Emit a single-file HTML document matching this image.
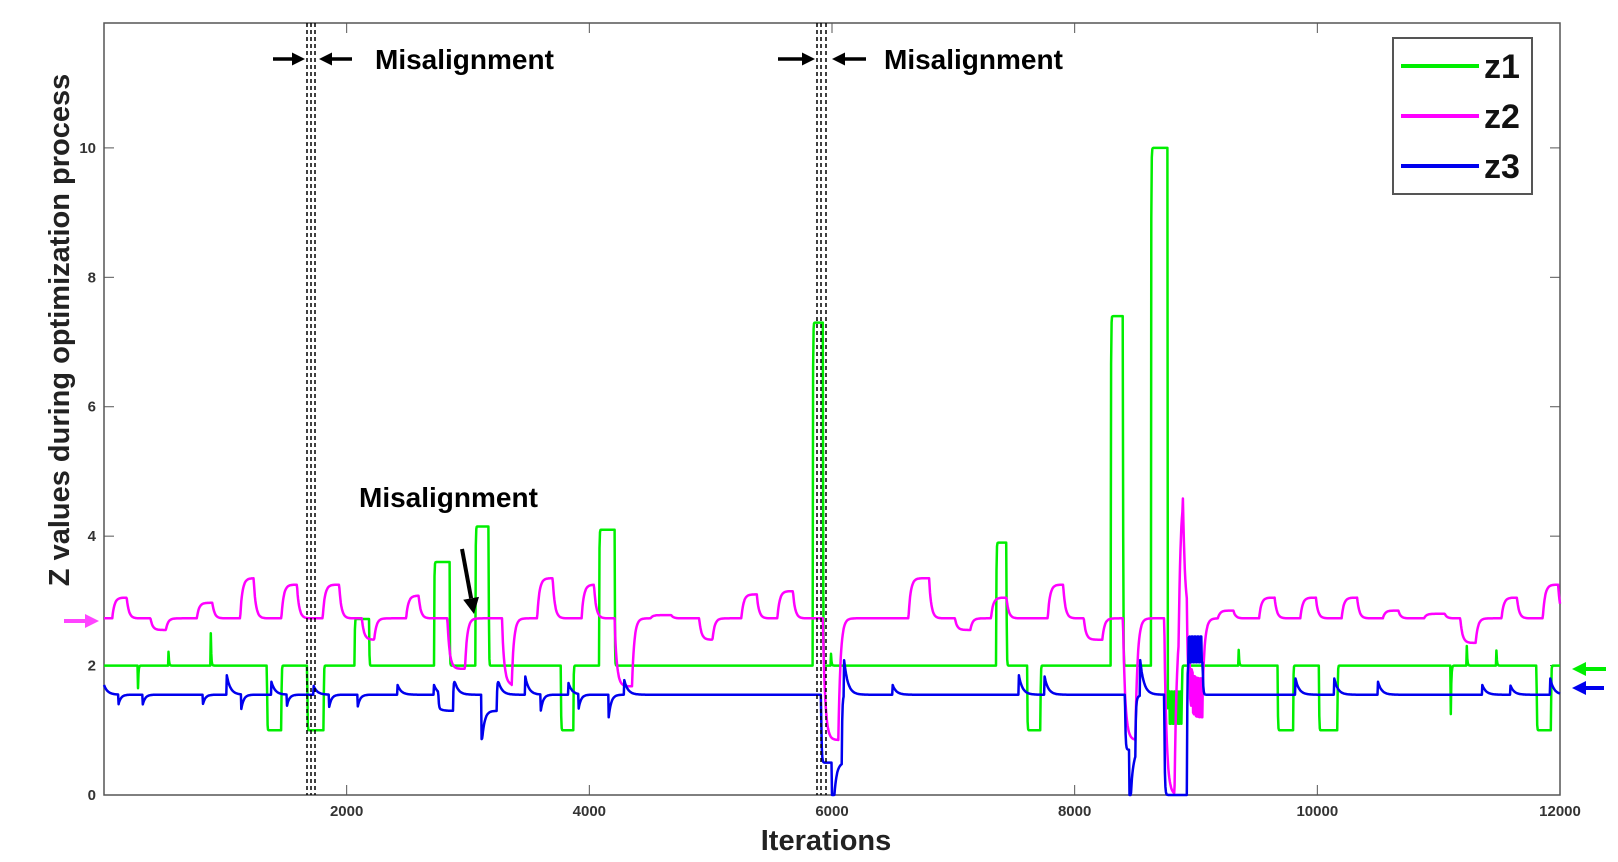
<!DOCTYPE html>
<html><head><meta charset="utf-8"><style>
html,body{margin:0;padding:0;background:#fff;}
svg{display:block;font-family:"Liberation Sans",sans-serif;}
</style></head><body>
<svg id="chart" width="1618" height="862" viewBox="0 0 1618 862" xmlns="http://www.w3.org/2000/svg"></svg>
<script>
const xTicks=[2000,4000,6000,8000,10000,12000];
const yTicks=[0,2,4,6,8,10];
const seriesNames=["z1","z2","z3"];
const z1Base=2.0, z2Base=2.73, z3Base=1.55;
// events: [startIter, endIter, level]
const z1Events=[[1343,1462,1.0],[1675,1810,1.0],[2065,2185,2.72],[2720,2848,3.6],[3060,3170,4.15],[3765,3868,1.0],[4080,4208,4.1],[5840,5925,7.3],[7353,7438,3.9],[7608,7718,1.0],[8296,8398,7.4],[8628,8764,10],[8764,8883,1.3],[9673,9800,1.0],[10013,10166,1.0],[11807,11926,1.0]];
const z1Spikes=[[280,1.65],[530,2.35],[880,2.5],[5990,2.3],[9350,2.4],[11100,1.25],[11230,2.5],[11475,2.3]];
const z2Events=[[68,187,3.05],[383,510,2.55],[765,893,2.97],[1122,1233,3.35],[1462,1590,3.25],[1802,1938,3.25],[2125,2227,2.4],[2490,2593,3.08],[2830,2975,1.95],[3280,3360,1.7],[3570,3698,3.35],[3936,4038,3.25],[4208,4352,1.68],[4505,4675,2.78],[4905,5015,2.4],[5253,5380,3.1],[5550,5678,3.15],[5925,6052,0.85],[6630,6800,3.35],[7013,7140,2.55],[7310,7438,3.05],[7778,7905,3.25],[8075,8228,2.4],[8398,8500,0.85],[8738,8823,0],[8857,8891,4.75],[8925,9053,1.5],[9180,9308,2.85],[9520,9648,3.05],[9860,9988,3.05],[10200,10328,3.05],[10540,10668,2.85],[10880,11050,2.8],[11178,11305,2.35],[11518,11645,3.05],[11858,11985,3.25]];
const z3Events=[[2755,2880,1.3],[3110,3240,1.3],[5910,6080,0.5],[8415,8500,0.7],[8738,8925,0],[8925,9053,2.3]];
const z3Spikes=[[0,1.7],[1012,1.85],[1380,1.75],[1725,1.7],[2420,1.7],[2720,1.7],[2880,1.85],[3240,1.85],[3470,1.85],[3825,1.75],[4285,1.8],[6100,2.1],[6500,1.7],[7540,1.85],[7750,1.85],[8540,2.1],[9820,1.8],[10140,1.8],[10500,1.75],[11360,1.7],[11590,1.7],[11920,1.8]];
const z3Dips=[[120,1.4],[320,1.4],[815,1.4],[1130,1.3],[1505,1.35],[1855,1.35],[2090,1.35],[3110,0.9],[3600,1.3],[3910,1.3],[4160,1.2],[6000,0.2],[8450,0.2]];

const L=104,R=1560,T=23,B=795,XMIN=0,XMAX=12000,YMIN=0,YMAX=11.93;
const sx=v=>L+(v-XMIN)/(XMAX-XMIN)*(R-L);
const sy=v=>B-(v-YMIN)/(YMAX-YMIN)*(B-T);
const NS="http://www.w3.org/2000/svg";
const svg=document.getElementById('chart');
function mk(tag,attrs,parent){const e=document.createElementNS(NS,tag);for(const k in attrs)e.setAttribute(k,attrs[k]);(parent||svg).appendChild(e);return e;}

function boxVal(t,base,events,tau){
  let v=base;
  for(const [s,e,lv] of events){
    if(t>=s&&t<e){v+= (lv-v)*(1-Math.exp(-(t-s)/tau));}
    else if(t>=e&&t<e+tau*8){v+=(lv-base)*Math.exp(-(t-e)/tau);}
  }
  return v;
}
function spikeVal(t,base,spikes,tau){
  let d=0;
  for(const [p,lv] of spikes){ if(t>=p&&t<p+tau*8) d+=(lv-base)*Math.exp(-(t-p)/tau); }
  return d;
}
function build(fn){const pts=[];for(let t=XMIN;t<=XMAX;t+=4){pts.push(sx(t).toFixed(1)+','+sy(Math.max(0,fn(t))).toFixed(1));}return pts.join(' ');}

const z1fn=t=>boxVal(t,z1Base,z1Events,2)+spikeVal(t,z1Base,z1Spikes,4)+((t>8764&&t<8883)?((Math.floor(t/12)%2)?0.3:-0.2):0);
const z2fn=t=>boxVal(t,z2Base,z2Events,18)+((t>8925&&t<9053)?((Math.floor(t/12)%2)?0.3:-0.3):0);
const z3fn=t=>boxVal(t,z3Base,z3Events,4)+spikeVal(t,z3Base,z3Spikes,30)+spikeVal(t,z3Base,z3Dips,20)+((t>8925&&t<9053)?((Math.floor(t/12)%2)?0.15:-0.25):0);

mk('rect',{x:L,y:T,width:R-L,height:B-T,fill:'none',stroke:'#555','stroke-width':1.5,});
const gx=mk('g',{});
xTicks.forEach(v=>{
  const x=sx(v);
  mk('line',{x1:x,x2:x,y1:B,y2:B-10,stroke:'#555','stroke-width':1},gx);
  mk('line',{x1:x,x2:x,y1:T,y2:T+10,stroke:'#555','stroke-width':1},gx);
  const t=mk('text',{x:x,y:B+21,'text-anchor':'middle','font-size':15,'font-weight':'bold',fill:'#333'},gx);t.textContent=v;
  
  
});
const gy=mk('g',{});
yTicks.forEach(v=>{
  const y=sy(v);
  mk('line',{x1:L,x2:L+10,y1:y,y2:y,stroke:'#555','stroke-width':1},gy);
  mk('line',{x1:R,x2:R-10,y1:y,y2:y,stroke:'#555','stroke-width':1},gy);
  const t=mk('text',{x:L-8,y:y+5,'text-anchor':'end','font-size':15,'font-weight':'bold',fill:'#333'},gy);t.textContent=v;
  
  
});
const xl=mk('text',{x:826,y:850,'text-anchor':'middle','font-size':29,'font-weight':'bold',fill:'#222'});xl.textContent='Iterations';


const yl=mk('text',{x:0,y:0,transform:'translate(69,330) rotate(-90)','text-anchor':'middle','font-size':29,'font-weight':'bold',fill:'#222'});yl.textContent='Z values during optimization process';



const colors={z1:'#00ee00',z2:'#ff00ff',z3:'#0000ee'};
const fns={z1:z1fn,z2:z2fn,z3:z3fn};
['z1','z2','z3'].forEach(n=>{
  const p=mk('polyline',{points:build(fns[n]),fill:'none',stroke:colors[n],'stroke-width':2.5,'stroke-linejoin':'round'});
  
  
});

[[307,311,315],[817,821,826]].forEach((xs,i)=>{
  xs.forEach(x=>{const l=mk('line',{x1:x,x2:x,y1:T,y2:B,stroke:'#000','stroke-width':1.5,'stroke-dasharray':'4,3'});
    
    });
});
function arrow(x1,y1,x2,y2,color,w,head){
  const g=mk('g',{});
  const ang=Math.atan2(y2-y1,x2-x1);
  const bx=x2-head*Math.cos(ang),by=y2-head*Math.sin(ang);
  mk('line',{x1:x1,y1:y1,x2:bx,y2:by,stroke:color,'stroke-width':w},g);
  const px=Math.sin(ang)*head*0.5,py=-Math.cos(ang)*head*0.5;
  mk('polygon',{points:`${x2},${y2} ${bx+px},${by+py} ${bx-px},${by-py}`,fill:color},g);
  return g;
}
const annots=[[273,305,319,352,375],[778,815,832,866,884]];
annots.forEach(a=>{
  const g1=arrow(a[0],59,a[1],59,'#000',3.5,13);
  const g2=arrow(a[3],59,a[2],59,'#000',3.5,13);
  const t=mk('text',{x:a[4],y:69,'font-size':28,'font-weight':'bold',fill:'#000'});t.textContent='Misalignment';
  
  
});
const t3=mk('text',{x:359,y:507,'font-size':28,'font-weight':'bold',fill:'#000'});t3.textContent='Misalignment';


const ga=arrow(462,549,474,614,'#000',4,16);

const sa1=arrow(64,621,99,621,'#ff44ff',4,14);
const sa2=arrow(1606,669,1572,669,'#00ee00',4,14);
const sa3=arrow(1604,688,1572,688,'#0000ee',4,14);

const lg=mk('g',{});
mk('rect',{x:1393,y:38,width:139,height:156,fill:'#fff',stroke:'#555','stroke-width':2},lg);
seriesNames.forEach((n,i)=>{
  const y=66+i*50;
  const e=mk('g',{},lg);
  
  
  mk('line',{x1:1401,x2:1479,y1:y,y2:y,stroke:colors[n],'stroke-width':4},e);
  const t=mk('text',{x:1484,y:y+12,'font-size':34,'font-weight':'bold',fill:'#111'},e);t.textContent=n;
});
</script>
</body></html>
